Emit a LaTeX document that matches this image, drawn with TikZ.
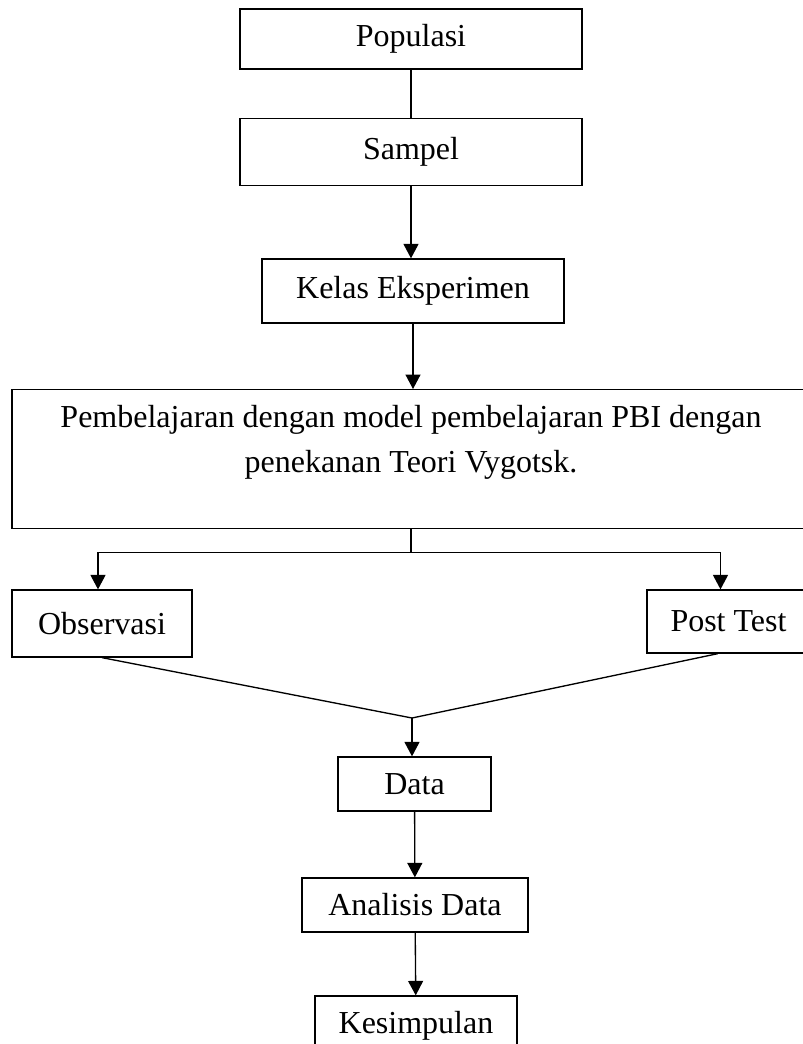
\documentclass[tikz,border=0pt]{standalone}
\usepackage{fontspec}
\setmainfont{Liberation Serif}
\usetikzlibrary{arrows.meta,positioning,shapes}
\tikzset{%
	process/.style = {draw, rectangle, inner sep=0pt, text centered, font=\fontsize{12}{16.9}\selectfont},
	arrow/.style   = {-{Triangle[width=5.6pt,length=5.4pt]}},
}

\begin{document}
\begin{tikzpicture}[x=0.375pt,y=-0.375pt,line width=0.5pt]
		\useasboundingbox (0,0) rectangle (802,1044);
		
		% upper chain
		\node[process, minimum width=128.25pt, minimum height=22.5pt] (pop) at (411,39) {Populasi};
		\node[process, minimum width=128.25pt, minimum height=25.1pt] (sam) at (411,152) {Sampel};
		\node[process, minimum width=113.25pt, minimum height=24pt] (kel) at (413,291) {Kelas Eksperimen};
		\node[process, anchor=north, minimum width=299.25pt, align=center, text height=31.1pt, text depth=21pt] (pbi) at (411,389) {Pembelajaran dengan model pembelajaran PBI dengan\\ penekanan Teori Vygotsk.};
		
		\draw (pop) -- (sam);
		\draw[arrow] (sam) -- (sam |- kel.north);
		\draw[arrow] (kel) -- (kel |- pbi.north);
		
		% branches
		\node[process, minimum width=67.5pt, minimum height=25.1pt] (obs) at (102,623.5) {Observasi};
		\node[process, minimum width=61.1pt, minimum height=23.6pt] (pst) at (728.5,621.5) {Post Test};
		
		\draw (pbi.south) -- ++(0,23) coordinate (split);
		\draw[arrow] (split) -| ([xshift=-1.5pt]obs.north);
		\draw[arrow] (split) -| ([xshift=-3pt]pst.north);
		
		\coordinate (merge) at (412,718);
		\draw (obs.south) -- (merge) -- ([xshift=-4pt]pst.south);
		
		% lower chain
		\node[process, minimum width=57.4pt, minimum height=20.25pt] (dat) at (414.5,784) {Data};
		\node[process, minimum width=84.75pt, minimum height=20.25pt] (ana) at (415,905) {Analisis Data};
		\node[process, minimum width=75.75pt, minimum height=22.5pt] (kes) at (416,1026) {Kesimpulan};
		
		\draw[arrow] (merge) -- (merge |- dat.north);
		\draw[arrow] (dat) -- (ana);
		\draw[arrow] (ana) -- (kes);
\end{tikzpicture}
\end{document}
